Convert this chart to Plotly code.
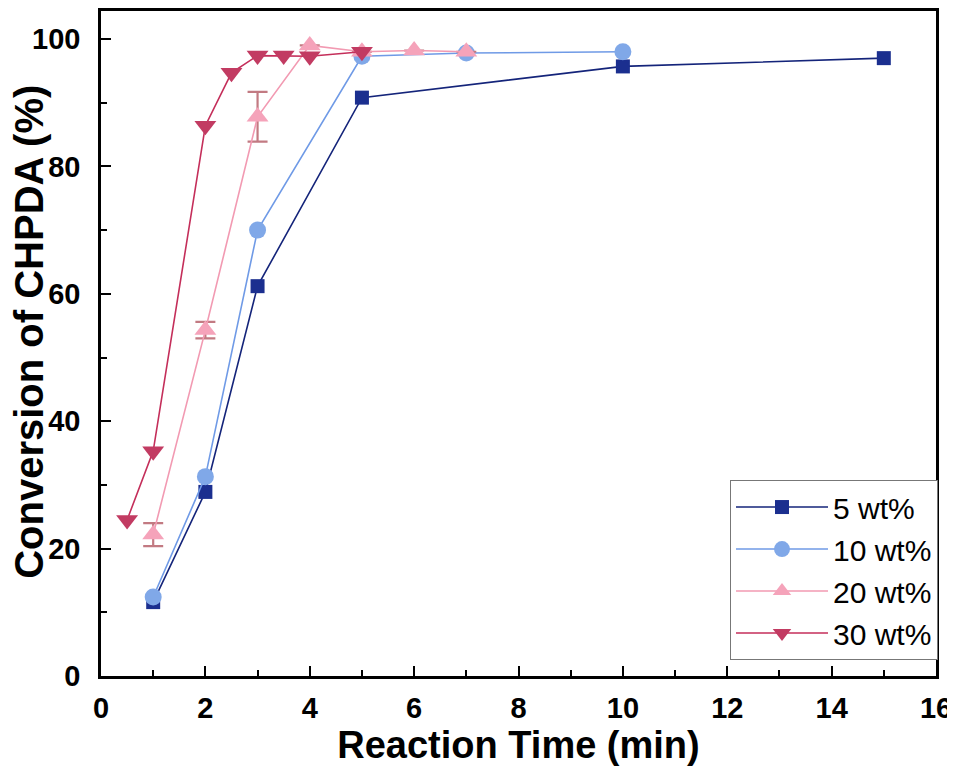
import plotly.graph_objects as go

# data
t_5 = [1, 2, 3, 5, 10, 15]
conv_5 = [11.6, 28.9, 61.2, 90.8, 95.7, 97.0]

t_10 = [1, 2, 3, 5, 7, 10]
conv_10 = [12.4, 31.3, 70.0, 97.3, 97.8, 98.0]

t_20 = [1, 2, 3, 4, 5, 6, 7]
conv_20 = [22.2, 54.3, 87.8, 99.0, 98.0, 98.2, 98.0]
err_20 = [1.8, 1.3, 3.9, 0, 0, 0, 0]

t_30 = [0.5, 1, 2, 2.5, 3, 3.5, 4, 5]
conv_30 = [24.5, 35.3, 86.4, 94.7, 97.4, 97.4, 97.3, 98.0]

series = [
    ("5 wt%", t_5, conv_5, None, "#1b2f8f", "#14247a", "square", 14),
    ("10 wt%", t_10, conv_10, None, "#80a8e8", "#6f9ae6", "circle", 17),
    ("20 wt%", t_20, conv_20, err_20, "#f5a3ba", "#f29ab2", "triangle-up", 19),
    ("30 wt%", t_30, conv_30, None, "#c23b62", "#c42e5a", "triangle-down", 19),
]

FONT = "Liberation Sans, Arial, sans-serif"

fig = go.Figure()

for name, x, y, err, mcol, lcol, sym, size in series:
    err_y = None
    if err is not None:
        err_y = dict(type="data", array=err, visible=True,
                     color="#c27a82", thickness=2.2, width=10)
    fig.add_trace(go.Scatter(
        x=x, y=y, name=name,
        mode="lines+markers",
        line=dict(color=lcol, width=1.6),
        marker=dict(symbol=sym, size=size, color=mcol, line=dict(width=0)),
        error_y=err_y,
    ))

tick_font = dict(family=FONT, size=29, color="black", weight="bold")
title_font = dict(family=FONT, size=38, color="black", weight="bold")

fig.update_xaxes(
    range=[0, 16], tickvals=[0, 2, 4, 6, 8, 10, 12, 14, 16],
    ticks="inside", ticklen=10, tickwidth=2, tickcolor="black",
    minor=dict(ticks="inside", ticklen=6, tickwidth=2, tickcolor="black", dtick=1),
    showline=True, linecolor="black", linewidth=2.5, mirror=True,
    showgrid=False, zeroline=False,
    tickfont=tick_font, ticklabelstandoff=4,
    title=dict(text="Reaction Time (min)", font=title_font, standoff=8),
)
fig.update_yaxes(
    range=[0, 104.4], tickvals=[0, 20, 40, 60, 80, 100],
    ticks="inside", ticklen=10, tickwidth=2, tickcolor="black",
    minor=dict(ticks="inside", ticklen=6, tickwidth=2, tickcolor="black", dtick=10),
    showline=True, linecolor="black", linewidth=2.5, mirror=True,
    showgrid=False, zeroline=False,
    tickfont=tick_font, ticklabelstandoff=12,
)

# y title placed by hand: in the reference it sits above the axis centre
fig.add_annotation(
    text="Conversion of CHPDA (%)", textangle=-90,
    xref="paper", yref="paper", x=-0.0855, y=0.517,
    xanchor="center", yanchor="middle", showarrow=False,
    font=dict(title_font, size=40),
)

fig.update_layout(
    width=947, height=765,
    paper_bgcolor="white", plot_bgcolor="white",
    margin=dict(l=93, r=19, t=0, b=97),
    legend=dict(
        x=1.0024, y=0.024, xanchor="right", yanchor="bottom",
        bgcolor="white", bordercolor="#777777", borderwidth=1,
        font=dict(family=FONT, size=30, color="black"),
        itemwidth=92, tracegroupgap=0,
    ),
)

fig.write_html("out.html")
